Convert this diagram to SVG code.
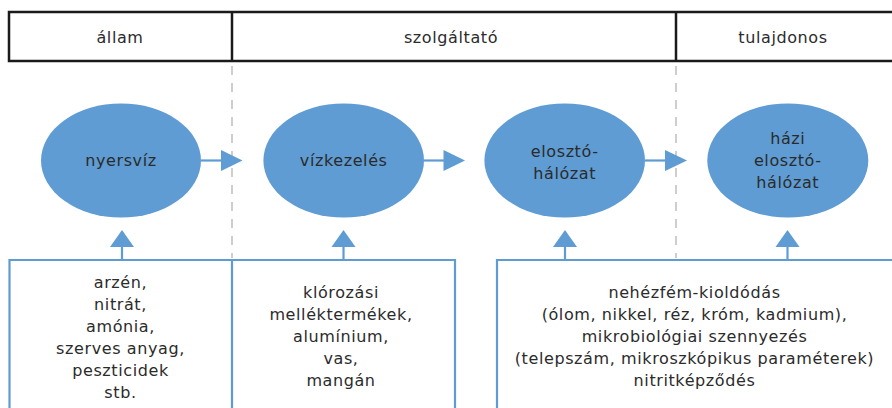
<svg xmlns="http://www.w3.org/2000/svg" width="892" height="408" viewBox="0 0 892 408">
<style>
text{font-family:"DejaVu Sans","Liberation Sans",sans-serif;font-size:16px;letter-spacing:0.6px;text-anchor:middle;fill:#2b2b2b}
.hdr{fill:none;stroke:#1a1a1a;stroke-width:2.5}
.ell{fill:#5e9cd3}
.box{fill:none;stroke:#5e9cd3;stroke-width:2.2}
.dash{stroke:#b4b4b4;stroke-width:1.3;stroke-dasharray:9 8}
.ln{stroke:#5e9cd3;stroke-width:2.2;fill:none}
.head{fill:#5e9cd3}
</style>
<rect width="892" height="408" fill="#fff"/>
<g id="header">
<rect class="hdr" x="9" y="12" width="890" height="49"/>
<line class="hdr" x1="232" y1="12" x2="232" y2="61"/>
<line class="hdr" x1="676" y1="12" x2="676" y2="61"/>
<text x="120" y="43">állam</text>
<text x="451" y="43">szolgáltató</text>
<text x="783" y="43">tulajdonos</text>
</g>
<g id="dividers">
<line class="dash" x1="232" y1="66" x2="232" y2="258"/>
<line class="dash" x1="676" y1="66" x2="676" y2="258"/>
</g>
<g id="n1"><ellipse class="ell" cx="121" cy="160.5" rx="80" ry="57"/><text x="121" y="166">nyersvíz</text></g>
<g id="n2"><ellipse class="ell" cx="343.7" cy="160.5" rx="80.3" ry="57"/><text x="343.7" y="166">vízkezelés</text></g>
<g id="n3"><ellipse class="ell" cx="564.7" cy="160.5" rx="80.3" ry="57"/><text x="564.7" y="157">elosztó-</text><text x="564.7" y="178.5">hálózat</text></g>
<g id="n4"><ellipse class="ell" cx="787.8" cy="160.5" rx="80.5" ry="57"/><text x="787.8" y="144">házi</text><text x="787.8" y="166">elosztó-</text><text x="787.8" y="188">hálózat</text></g>
<g id="b1">
<path class="box" d="M9.5,410 V260 H232"/>
<text x="120.5" y="287.5">arzén,</text>
<text x="120.5" y="309.5">nitrát,</text>
<text x="120.5" y="331.5">amónia,</text>
<text x="120.5" y="353.5">szerves anyag,</text>
<text x="120.5" y="375.5">peszticidek</text>
<text x="120.5" y="397.5">stb.</text>
</g>
<g id="b2">
<path class="box" d="M232,410 V260 H455 V410"/>
<text x="341" y="298">klórozási</text>
<text x="341" y="320">melléktermékek,</text>
<text x="341" y="342">alumínium,</text>
<text x="341" y="364">vas,</text>
<text x="341" y="386">mangán</text>
</g>
<g id="b3">
<path class="box" d="M497,410 V260 H895"/>
<text x="694.5" y="298">nehézfém-kioldódás</text>
<text x="694.5" y="320">(ólom, nikkel, réz, króm, kadmium),</text>
<text x="694.5" y="342">mikrobiológiai szennyezés</text>
<text x="694.5" y="364">(telepszám, mikroszkópikus paraméterek)</text>
<text x="694.5" y="386">nitritképződés</text>
</g>
<g id="connectors">
<line class="ln" x1="201" y1="160.5" x2="222" y2="160.5"/>
<polygon class="head" points="221,150 242.5,160.5 221,171"/>
<line class="ln" x1="424" y1="160.5" x2="444" y2="160.5"/>
<polygon class="head" points="443.5,150 465,160.5 443.5,171"/>
<line class="ln" x1="645" y1="160.5" x2="666" y2="160.5"/>
<polygon class="head" points="665,150 687,160.5 665,171"/>
<line class="ln" x1="122" y1="246" x2="122" y2="260"/>
<polygon class="head" points="110,247 122,230 134,247"/>
<line class="ln" x1="343.5" y1="246" x2="343.5" y2="260"/>
<polygon class="head" points="331.5,247 343.5,230 355.5,247"/>
<line class="ln" x1="565" y1="246" x2="565" y2="260"/>
<polygon class="head" points="553,247 565,230 577,247"/>
<line class="ln" x1="787.5" y1="246" x2="787.5" y2="260"/>
<polygon class="head" points="775.5,247 787.5,230 799.5,247"/>
</g>
</svg>
